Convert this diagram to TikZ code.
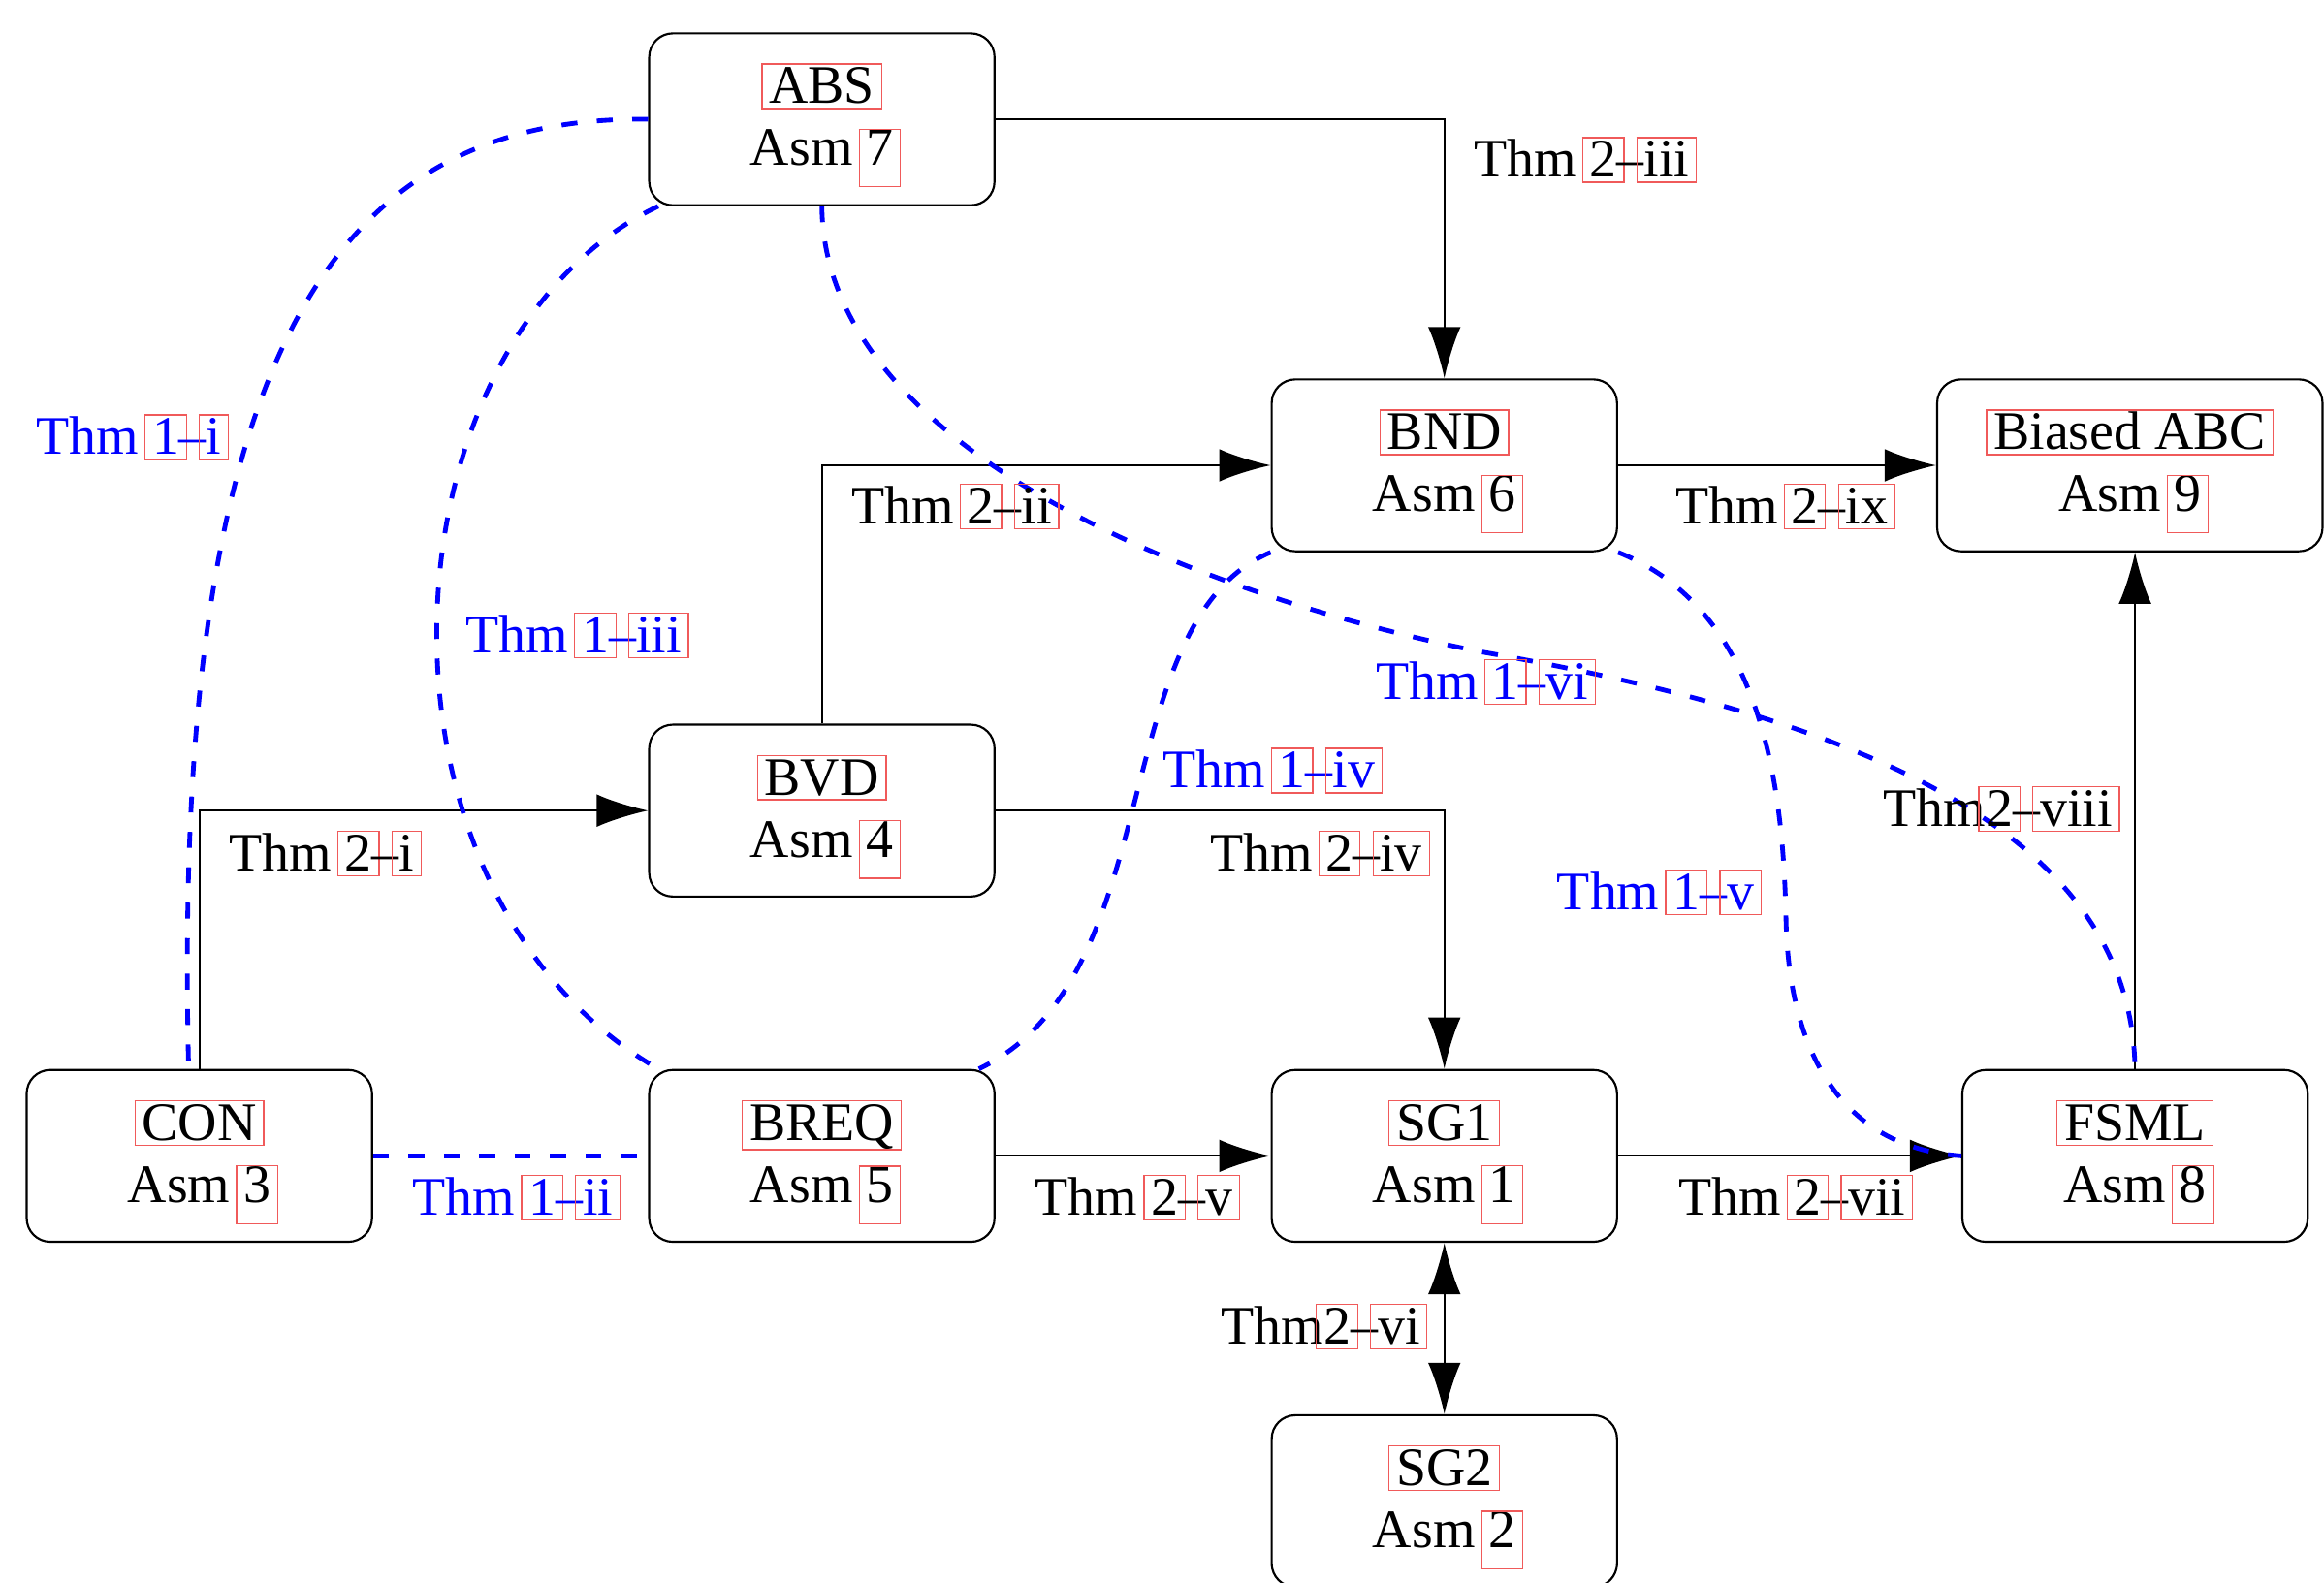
\documentclass[tikz,border=0pt]{standalone}
\usepackage{fontspec}
\setmainfont{Liberation Serif}
\usetikzlibrary{arrows.meta}
\definecolor{lkred}{RGB}{240,90,90}
\newcommand\lkany[3]{{\setlength\fboxsep{0pt}\setlength\fboxrule{0.35pt}\colorlet{lkc}{.}\kern\dimexpr-0.12em-0.35pt\relax\textcolor{lkred}{\fbox{\color{lkc}\kern0.12em\rule[-#2]{0pt}{#1}#3\kern0.12em}}\kern\dimexpr-0.12em-0.35pt\relax}}
\newcommand\lk[1]{\lkany{0.8em}{0.08em}{#1}}
\newcommand\lkn[1]{\lkany{0.9em}{0.38em}{#1}}
\newcommand\topstrut{\rule{0pt}{0.97em}}
\begin{document}
\begin{tikzpicture}[x=0.015cm, y=-0.015cm,
  font=\fontsize{15.6}{17.9}\selectfont,
  box/.style={draw, line width=0.6pt, rounded corners=0.24cm, minimum width=3.495cm, minimum height=1.74cm, align=center, inner sep=0pt},
  arr/.style={line width=0.6pt, -{Latex[length=0.52cm,width=0.33cm]}},
  arrb/.style={line width=0.6pt, {Latex[length=0.52cm,width=0.33cm]}-{Latex[length=0.52cm,width=0.33cm]}},
  blu/.style={blue, line width=1.35pt, dash pattern=on 4.6pt off 5.6pt},
  lab/.style={inner sep=0pt},
  bl/.style={inner sep=0pt, text=blue}]
\useasboundingbox (0,0) rectangle (1568,1068);

% nodes
\node[box] (ABS)  at (554.5,80.5) {\topstrut\lk{ABS}\\Asm \lkn{7}};
\node[box] (BND)  at (974.5,314)  {\topstrut\lk{BND}\\Asm \lkn{6}};
\node[box, minimum width=3.9cm] (BABC) at (1437,314) {\topstrut\lk{Biased ABC}\\Asm \lkn{9}};
\node[box] (BVD)  at (554.5,547)  {\topstrut\lk{BVD}\\Asm \lkn{4}};
\node[box] (CON)  at (134.5,780)  {\topstrut\lk{CON}\\Asm \lkn{3}};
\node[box] (BREQ) at (554.5,780)  {\topstrut\lk{BREQ}\\Asm \lkn{5}};
\node[box] (SG1)  at (974.5,780)  {\topstrut\lk{SG1}\\Asm \lkn{1}};
\node[box] (FSML) at (1440.5,780) {\topstrut\lk{FSML}\\Asm \lkn{8}};
\node[box] (SG2)  at (974.5,1013) {\topstrut\lk{SG2}\\Asm \lkn{2}};

% black connectors
\draw[arr] (ABS.east) -| (BND.north);
\draw[arr] (BVD.north) |- (BND.west);
\draw[arr] (BND.east) -- (BABC.west);
\draw[arr] (CON.north) |- (BVD.west);
\draw[arr] (BVD.east) -| (SG1.north);
\draw[arr] (BREQ.east) -- (SG1.west);
\draw[arr] (SG1.east) -- (FSML.west);
\draw[arrb] (SG1.south) -- (SG2.north);
\draw[arr] (FSML.north) -- (FSML.north |- BABC.south);

% blue dashed connectors
\draw[blu] (ABS.west) .. controls (230,78) and (115,230) .. (CON.97);
\draw[blu] (ABS.208) .. controls (255,230) and (235,600) .. (BREQ.152);
\draw[blu] (ABS.south) .. controls (556,300) and (800,400) .. (1000,440)
           .. controls (1275,488) and (1438,570) .. (FSML.north);
\draw[blu] (BND.south west) .. controls (745,420) and (790,660) .. (BREQ.29);
\draw[blu] (BND.south east) .. controls (1185,410) and (1203,520) .. (1205,620)
           .. controls (1207,720) and (1250,775) .. (FSML.west);
\draw[blu] (CON.east) -- (BREQ.west);

% black labels
\node[lab] (l2iii) at (1067,108) {Thm \lk{2}–\lk{iii}};
\node[lab] (l2ii)  at (642,342)  {Thm \lk{2}–\lk{ii}};
\node[lab] (l2ix)  at (1202,342) {Thm \lk{2}–\lk{ix}};
\node[lab] (l2i)   at (217,576)  {Thm \lk{2}–\lk{i}};
\node[lab] (l2iv)  at (888,576)  {Thm \lk{2}–\lk{iv}};
\node[lab] (l2v)   at (765,808)  {Thm \lk{2}–\lk{v}};
\node[lab] (l2vii) at (1209,808) {Thm \lk{2}–\lk{vii}};
\node[lab] (l2vi)  at (891,895)  {Thm\lk{2}–\lk{vi}};
\node[lab] (l2viii) at (1348,546) {Thm\lk{2}–\lk{viii}};

% blue labels
\node[bl] (l1i)   at (87,295)   {Thm \lk{1}–\lk{i}};
\node[bl] (l1iii) at (387,429)  {Thm \lk{1}–\lk{iii}};
\node[bl] (l1vi)  at (1000,460) {Thm \lk{1}–\lk{vi}};
\node[bl] (l1iv)  at (856,520)  {Thm \lk{1}–\lk{iv}};
\node[bl] (l1v)   at (1117,602) {Thm \lk{1}–\lk{v}};
\node[bl] (l1ii)  at (346,808)  {Thm \lk{1}–\lk{ii}};
\end{tikzpicture}
\end{document}
